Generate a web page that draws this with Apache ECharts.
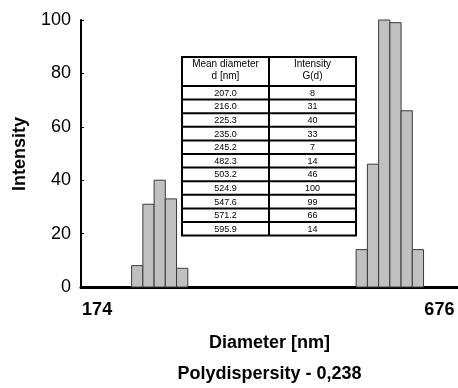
<!DOCTYPE html>
<html><head><meta charset="utf-8">
<script src="https://cdn.jsdelivr.net/npm/echarts@6/dist/echarts.min.js"></script>
<style>html,body{margin:0;padding:0;background:#fff}#c{width:458px;height:388px}</style>
</head><body><div id="c"></div>
<script>
// ---- data ----
const diameters = [207.0, 216.0, 225.3, 235.0, 245.2, 482.3, 503.2, 524.9, 547.6, 571.2, 595.9];
const intensities = [8, 31, 40, 33, 7, 14, 46, 100, 99, 66, 14];
const xTickValues = [174, 676];
const xTickLabels = ['174', '676'];
const yTicks = [0, 20, 40, 60, 80, 100];
const tableHeaderLeft = ['Mean diameter', 'd [nm]'];
const tableHeaderRight = ['Intensity', 'G(d)'];
const xAxisTitle = 'Diameter [nm]';
const yAxisTitle = 'Intensity';
const footnote = 'Polydispersity - 0,238';

// ---- bins (log-spaced, contiguous inside each group) ----
function binEdges(i) {
  const d = diameters[i];
  const near = (a, b) => b / a < 1.15;
  const prev = i > 0 && near(diameters[i - 1], d) ? diameters[i - 1] : null;
  const next = i < diameters.length - 1 && near(d, diameters[i + 1]) ? diameters[i + 1] : null;
  let lo, hi;
  if (prev) lo = Math.sqrt(prev * d);
  if (next) hi = Math.sqrt(next * d);
  if (!prev) lo = d * d / hi;
  if (!next) hi = d * d / lo;
  return [lo, hi];
}
const barData = diameters.map((d, i) => { const e = binEdges(i); return [e[0], e[1], intensities[i]]; });

const FONT = '"Liberation Sans", Arial, sans-serif';
const chart = echarts.init(document.getElementById('c'), null, { renderer: 'canvas' });

chart.setOption({
  animation: false,
  backgroundColor: '#fff',
  grid: { left: 81, right: 0, top: 20, bottom: 101, containLabel: false },
  xAxis: {
    type: 'log', logBase: 10, min: 167.5, max: 693,
    axisLine: { show: true, onZero: false, lineStyle: { color: '#000', width: 3 } },
    axisTick: { show: false }, axisLabel: { show: false }, splitLine: { show: false }, minorTick: { show: false }
  },
  yAxis: {
    type: 'value', min: yTicks[0], max: yTicks[yTicks.length - 1], interval: yTicks[1] - yTicks[0],
    axisLine: { show: true, onZero: false, lineStyle: { color: '#000', width: 2 } },
    axisTick: { show: true, inside: true, length: 3, lineStyle: { color: '#000', width: 1 } },
    axisLabel: { color: '#000', fontSize: 18, fontFamily: FONT, margin: 10 },
    splitLine: { show: false }
  },
  series: [{
    type: 'custom',
    data: barData,
    encode: { x: [0, 1], y: 2 },
    renderItem: function (params, api) {
      const p0 = api.coord([api.value(0), 0]);
      const p1 = api.coord([api.value(1), api.value(2)]);
      return {
        type: 'rect',
        shape: { x: p0[0], y: p1[1], width: p1[0] - p0[0], height: p0[1] - p1[1] },
        style: { fill: '#c0c0c0', stroke: '#3a3a3a', lineWidth: 1 }
      };
    },
    z: 2
  }]
});

// ---- texts and table ----
const g = [];
xTickValues.forEach((v, i) => {
  const px = chart.convertToPixel({ xAxisIndex: 0 }, v);
  const first = i === 0;
  g.push({
    type: 'text', x: first ? px - 9 : px + 3, y: 310,
    style: { text: xTickLabels[i], fill: '#000', font: 'bold 18px ' + FONT,
      textAlign: first ? 'left' : 'right', textVerticalAlign: 'middle' }
  });
});
g.push({ type: 'text', x: 269.5, y: 343, style: { text: xAxisTitle, fill: '#000', font: 'bold 18px ' + FONT, textAlign: 'center', textVerticalAlign: 'middle' } });
g.push({ type: 'text', x: 269.5, y: 374, style: { text: footnote, fill: '#000', font: 'bold 18px ' + FONT, textAlign: 'center', textVerticalAlign: 'middle' } });
g.push({ type: 'text', x: 20, y: 154, rotation: Math.PI / 2, style: { text: yAxisTitle, fill: '#000', font: 'bold 18px ' + FONT, textAlign: 'center', textVerticalAlign: 'middle' } });

// table
const tL = 182, tR = 356, tMid = 269, tTop = 57, hdrBot = 86, rowH = 13.6;
const tBot = hdrBot + rowH * diameters.length;
g.push({ type: 'rect', shape: { x: tL, y: tTop, width: tR - tL, height: tBot - tTop }, style: { fill: '#fff', stroke: '#000', lineWidth: 2 }, z: 10 });
g.push({ type: 'line', shape: { x1: tMid, y1: tTop, x2: tMid, y2: tBot }, style: { stroke: '#000', lineWidth: 2 }, z: 11 });
for (let i = 0; i < diameters.length; i++) {
  const y = hdrBot + rowH * i;
  g.push({ type: 'line', shape: { x1: tL, y1: y, x2: tR, y2: y }, style: { stroke: '#000', lineWidth: 2 }, z: 11 });
  g.push({ type: 'text', x: (tL + tMid) / 2, y: y + rowH / 2 + 0.5, style: { text: diameters[i].toFixed(1), fill: '#000', font: '9px ' + FONT, textAlign: 'center', textVerticalAlign: 'middle' }, z: 12 });
  g.push({ type: 'text', x: (tMid + tR) / 2, y: y + rowH / 2 + 0.5, style: { text: String(intensities[i]), fill: '#000', font: '9px ' + FONT, textAlign: 'center', textVerticalAlign: 'middle' }, z: 12 });
}
tableHeaderLeft.forEach((t, k) => g.push({ type: 'text', x: (tL + tMid) / 2, y: tTop + 7 + k * 12.5, style: { text: t, fill: '#000', font: '10px ' + FONT, textAlign: 'center', textVerticalAlign: 'middle' }, z: 12 }));
tableHeaderRight.forEach((t, k) => g.push({ type: 'text', x: (tMid + tR) / 2, y: tTop + 7 + k * 12.5, style: { text: t, fill: '#000', font: '10px ' + FONT, textAlign: 'center', textVerticalAlign: 'middle' }, z: 12 }));

chart.setOption({ graphic: { elements: g } });
</script>
</body></html>
